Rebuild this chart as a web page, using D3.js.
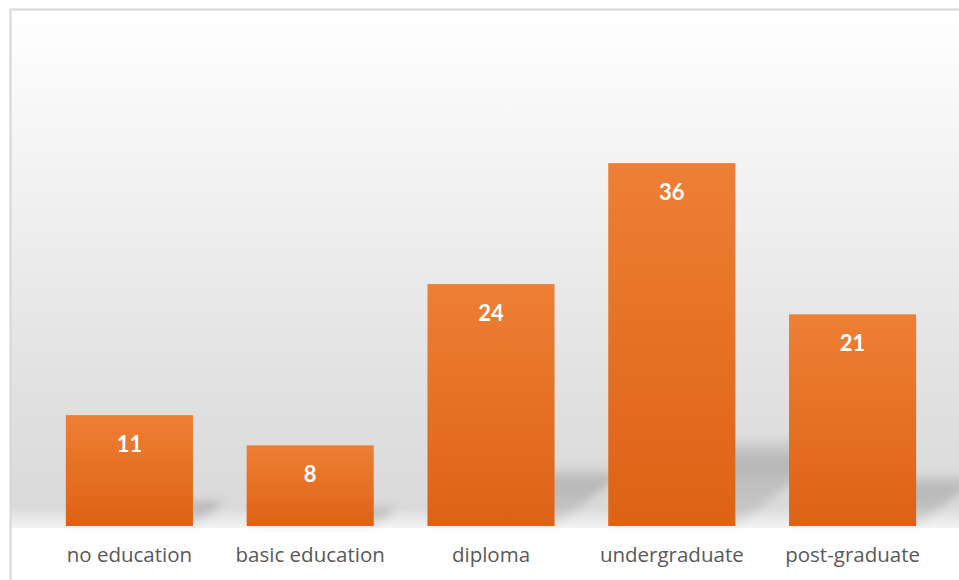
<!DOCTYPE html>
<html>
<head>
<meta charset="utf-8">
<script src="https://cdn.jsdelivr.net/npm/d3@7"></script>
<style>
  html, body { margin: 0; padding: 0; background: #fff; }
  svg { display: block; }
</style>
</head>
<body>
<svg width="959" height="580"></svg>
<script>
// Chart data
const categories = ['no education', 'basic education', 'diploma', 'undergraduate', 'post-graduate'];
const values = [11, 8, 24, 36, 21];
const yDomain = [0, 50];

const svg = d3.select('svg');
const width = +svg.attr('width');
const height = +svg.attr('height');
const base = 526;

const defs = svg.append('defs');

// plot background: white fading into grey towards the baseline
const bg = defs.append('linearGradient')
  .attr('id', 'bg').attr('x1', 0).attr('y1', 0).attr('x2', 0).attr('y2', 1);
bg.append('stop').attr('offset', 0).attr('stop-color', '#ffffff');
bg.append('stop').attr('offset', 0.3).attr('stop-color', '#f3f3f3');
bg.append('stop').attr('offset', 0.75).attr('stop-color', '#e0e0e0');
bg.append('stop').attr('offset', 0.96).attr('stop-color', '#dadada');
bg.append('stop').attr('offset', 1).attr('stop-color', '#f4f4f4');

// bar fill
const barGrad = defs.append('linearGradient')
  .attr('id', 'bar').attr('x1', 0).attr('y1', 0).attr('x2', 0).attr('y2', 1);
barGrad.append('stop').attr('offset', 0).attr('stop-color', '#ee7f35');
barGrad.append('stop').attr('offset', 1).attr('stop-color', '#dd6215');

// shadow fill, darker near the top of the shadow
const shGrad = defs.append('linearGradient')
  .attr('id', 'shadow').attr('x1', 0).attr('y1', 0).attr('x2', 0).attr('y2', 1);
shGrad.append('stop').attr('offset', 0).attr('stop-color', '#000').attr('stop-opacity', 0.04);
shGrad.append('stop').attr('offset', 0.25).attr('stop-color', '#000').attr('stop-opacity', 0.17);
shGrad.append('stop').attr('offset', 1).attr('stop-color', '#000').attr('stop-opacity', 0.06);

defs.append('filter').attr('id', 'blur')
  .attr('x', '-50%').attr('y', '-50%').attr('width', '200%').attr('height', '200%')
  .append('feGaussianBlur').attr('stdDeviation', 5);

// Frame
svg.append('rect')
  .attr('x', 0).attr('y', 0).attr('width', width).attr('height', height)
  .attr('fill', '#fff');
svg.append('rect')
  .attr('x', 11).attr('y', 10).attr('width', width).attr('height', base - 8)
  .attr('fill', 'url(#bg)');
svg.append('rect')
  .attr('x', 10.5).attr('y', 9.5).attr('width', width + 10).attr('height', height + 10)
  .attr('fill', 'none').attr('stroke', '#d6d6d6').attr('stroke-width', 2);

// Scales
const x = d3.scaleBand()
  .domain(categories)
  .range([39, 943])
  .paddingInner(0.297)
  .paddingOuter(0.1485);

const y = d3.scaleLinear()
  .domain(yDomain)
  .range([base, 22]);

const data = categories.map((c, i) => ({cat: c, value: values[i]}));

// Perspective shadows behind the bars
const shadowScale = 0.24;
const shadowSkew = 1.3;
svg.append('g')
  .attr('filter', 'url(#blur)')
  .selectAll('path')
  .data(data)
  .join('path')
    .attr('fill', 'url(#shadow)')
    .attr('d', (d) => {
      const x0 = x(d.cat);
      const x1 = x0 + x.bandwidth();
      const sh = (base - y(d.value)) * shadowScale;
      const dx = sh * shadowSkew;
      return `M${x0},${base}L${x1},${base}L${x1 + dx},${base - sh}L${x0 + dx},${base - sh}Z`;
    });

// Bars
svg.append('g')
  .selectAll('rect')
  .data(data)
  .join('rect')
    .attr('x', (d) => x(d.cat))
    .attr('y', (d) => y(d.value))
    .attr('width', x.bandwidth())
    .attr('height', (d) => base - y(d.value))
    .attr('fill', 'url(#bar)');

// Value labels
svg.append('g')
  .selectAll('text')
  .data(data)
  .join('text')
    .attr('x', (d) => x(d.cat) + x.bandwidth() / 2)
    .attr('y', (d) => y(d.value) + 37)
    .attr('text-anchor', 'middle')
    .attr('font-family', 'Lato, "Open Sans", sans-serif')
    .attr('font-weight', 'bold')
    .attr('font-size', 22)
    .attr('fill', '#fff')
    .text((d) => d.value);

// Category axis (no line, no ticks)
const xAxis = d3.axisBottom(x).tickSize(0).tickPadding(0);
const gx = svg.append('g')
  .attr('transform', `translate(0, ${base})`)
  .call(xAxis);
gx.select('.domain').remove();
gx.selectAll('text')
  .attr('dy', null)
  .attr('y', 36)
  .attr('font-family', '"Open Sans", sans-serif')
  .attr('font-size', 20.5)
  .attr('fill', '#595959');
</script>
</body>
</html>
